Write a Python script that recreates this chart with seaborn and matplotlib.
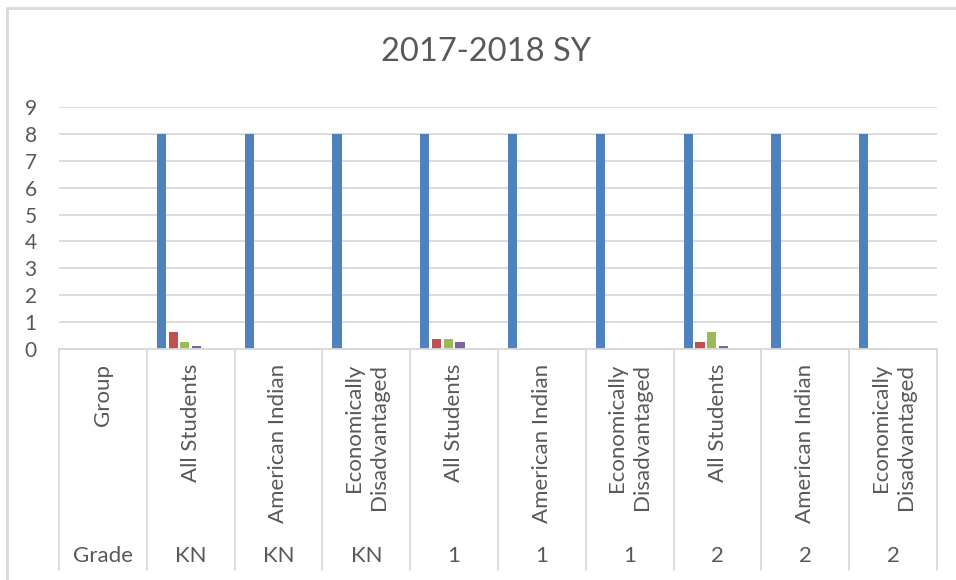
import pandas as pd
import matplotlib.pyplot as plt
import seaborn as sns
from matplotlib.lines import Line2D

# Chart data
groups = ['Group', 'All Students', 'American Indian', 'Economically\nDisadvantaged',
          'All Students', 'American Indian', 'Economically\nDisadvantaged',
          'All Students', 'American Indian', 'Economically\nDisadvantaged']
grades = ['Grade', 'KN', 'KN', 'KN', '1', '1', '1', '2', '2', '2']
series_names = ['Series1', 'Series2', 'Series3', 'Series4', 'Series5', 'Series6']
series1 = [0, 8, 8, 8, 8, 8, 8, 8, 8, 8]
series2 = [0, 0.625, 0, 0, 0.375, 0, 0, 0.25, 0, 0]
series3 = [0, 0.25, 0, 0, 0.375, 0, 0, 0.625, 0, 0]
series4 = [0, 0.125, 0, 0, 0.25, 0, 0, 0.125, 0, 0]
series5 = [0, 0, 0, 0, 0, 0, 0, 0, 0, 0]
series6 = [0, 0, 0, 0, 0, 0, 0, 0, 0, 0]
colors = ['#4F81BD', '#C0504D', '#9BBB59', '#8064A2', '#4BACC6', '#F79646']

keys = [f'c{i}' for i in range(len(groups))]
rows = []
for name, vals in zip(series_names, [series1, series2, series3, series4, series5, series6]):
    for k, v in zip(keys, vals):
        rows.append({'cat': k, 'series': name, 'value': v})
df = pd.DataFrame(rows)

sns.set_style('white')
plt.rcParams['font.family'] = ['Lato', 'DejaVu Sans']
text_col = '#595959'
grid_col = '#D9D9D9'

W, H = 956, 580
fig = plt.figure(figsize=(W / 100, H / 100), dpi=100)
ax = fig.add_axes([59 / W, (H - 349) / H, 878 / W, 242 / H])

sns.barplot(data=df, x='cat', y='value', hue='series', order=keys,
            hue_order=series_names, palette=colors, saturation=1, width=0.8,
            gap=0.22, linewidth=0, legend=False, ax=ax)

ax.set_xlim(-0.5, len(keys) - 0.5)
ax.set_ylim(0, 9)
ax.set_yticks(range(0, 10))
ax.yaxis.grid(True, color=grid_col, linewidth=1.3)
ax.set_axisbelow(True)
for s in ['top', 'right', 'left']:
    ax.spines[s].set_visible(False)
ax.spines['bottom'].set_color(grid_col)
ax.spines['bottom'].set_linewidth(1.3)
ax.tick_params(axis='y', length=0, pad=16, labelsize=15, labelcolor=text_col)
ax.set_xticks([])
ax.set_xlabel('')
ax.set_ylabel('')

# multi-level category axis
trans = ax.get_xaxis_transform()
for i in range(len(keys) + 1):
    x = i - 0.5
    ax.add_line(Line2D([x, x], [0, -221 / 242], transform=trans, color=grid_col,
                       linewidth=1.3, clip_on=False))
for i, (g, gr) in enumerate(zip(groups, grades)):
    ax.text(i, -15 / 242, g, transform=trans, rotation=90, ha='center', va='top',
            multialignment='right', fontsize=16, color=text_col, linespacing=1.3)
    ax.text(i, -207 / 242, gr, transform=trans, ha='center', va='center',
            fontsize=16, color=text_col)

fig.text(486 / W, 1 - 52 / H, '2017-2018 SY', ha='center', va='center',
         fontsize=23.5, color=text_col)

# chart border
fig.add_artist(Line2D([7 / W, 7 / W], [0, 1 - 8 / H], transform=fig.transFigure,
                      color=grid_col, linewidth=2))
fig.add_artist(Line2D([7 / W, 1], [1 - 8 / H, 1 - 8 / H], transform=fig.transFigure,
                      color=grid_col, linewidth=2))

fig.savefig('out.png', dpi=100)
plt.close(fig)
